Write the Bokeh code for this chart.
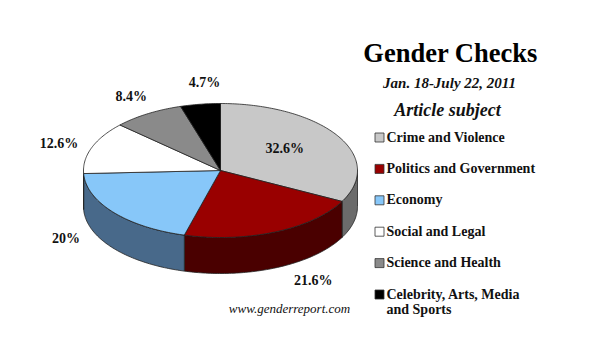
import math
from bokeh.plotting import figure
from bokeh.models import Range1d
from bokeh.core.properties import value
from bokeh.embed import file_html
from bokeh.resources import INLINE

# ---- data ----
categories = ["Crime and Violence", "Politics and Government", "Economy",
              "Social and Legal", "Science and Health", "Celebrity, Arts, Media\nand Sports"]
shares = [32.6, 21.6, 20.0, 12.6, 8.4, 4.7]
pct_labels = ["32.6%", "21.6%", "20%", "12.6%", "8.4%", "4.7%"]
title_text = "Gender Checks"
subtitle_text = "Jan. 18-July 22, 2011"
legend_title = "Article subject"
source_text = "www.genderreport.com"

# ---- styles ----
top_colors = ["#c8c8c8", "#990000", "#87c7f9", "#ffffff", "#8a8a8a", "#000000"]
side_colors = ["#6b6b6b", "#4a0000", "#48698a", "#bdbdbd", "#4a4a4a", "#000000"]
label_nudge = [(-6, 1), (30, 6), (-32, 22), (-14, -3), (-6, 0), (7, 2)]
FONT = "Liberation Serif"

W, H = 590, 344
p = figure(width=W, height=H, output_backend="svg", toolbar_location=None,
           x_range=Range1d(0, W), y_range=Range1d(360 - H, 360),
           x_axis_location=None, y_axis_location=None, min_border=0)
p.grid.visible = False
p.outline_line_color = None
p.background_fill_color = "white"

# image y -> data y
def Y(img_y):
    return 360 - img_y

cx, cy = 220, Y(170)
rx, ry, depth = 137, 67, 36
total = sum(shares)

def pt(t, drop=0.0):
    r = math.radians(t)
    return cx + rx * math.cos(r), cy + ry * math.sin(r) - drop

# angular ranges (clockwise from 12 o'clock)
starts, ends = [], []
a = 90.0
for s in shares:
    b = a - s / total * 360.0
    starts.append(a)
    ends.append(b)
    a = b

def arc(lo, hi, drop=0.0, step=1.0):
    n = max(2, int(math.ceil((hi - lo) / step)) + 1)
    return [pt(lo + (hi - lo) * i / (n - 1), drop) for i in range(n)]

# side walls (visible lower half)
sx, sy, sc = [], [], []
for i in range(len(shares)):
    hi, lo = starts[i], ends[i]
    for (wlo, whi) in [(-180, 0), (-540, -360), (180, 360)]:
        l, h = max(lo, wlo), min(hi, whi)
        if h - l > 0.05:
            top = arc(l, h)
            bot = arc(l, h, depth)[::-1]
            pts = top + bot
            sx.append([q[0] for q in pts])
            sy.append([q[1] for q in pts])
            sc.append(side_colors[i])
p.patches(sx, sy, fill_color=sc, line_color="#222222", line_width=0.8)

# top wedges
tx, ty = [], []
for i in range(len(shares)):
    pts = [(cx, cy)] + arc(ends[i], starts[i])[::-1]
    tx.append([q[0] for q in pts])
    ty.append([q[1] for q in pts])
p.patches(tx, ty, fill_color=top_colors, line_color="#222222", line_width=0.8)

# percentage labels
lx, ly = [], []
for i in range(len(shares)):
    mid = (starts[i] + ends[i]) / 2
    r = math.radians(mid)
    if i == 0:
        x = cx + 0.6 * rx * math.cos(r)
        y = cy + 0.6 * ry * math.sin(r)
    else:
        d = 20
        x = cx + (rx + d) * math.cos(r)
        y = cy + (ry + d) * math.sin(r) - (depth if math.sin(r) < 0 else 0)
    lx.append(x + label_nudge[i][0])
    ly.append(y + label_nudge[i][1])
p.text(lx, ly, text=pct_labels, text_font=value(FONT), text_font_style="bold",
       text_font_size="14px", text_align="center", text_baseline="middle", text_color="#111111")

# titles
p.text([450], [Y(52)], text=[title_text], text_font=value(FONT), text_font_style="bold",
       text_font_size="26.5px", text_align="center", text_baseline="middle", text_color="#000000")
p.text([449], [Y(82)], text=[subtitle_text], text_font=value(FONT), text_font_style="bold italic",
       text_font_size="15px", text_align="center", text_baseline="middle", text_color="#111111")
p.text([447], [Y(109)], text=[legend_title], text_font=value(FONT), text_font_style="bold italic",
       text_font_size="18px", text_align="center", text_baseline="middle", text_color="#111111")

# legend
leg_y = [Y(137 + 31.4 * i) for i in range(len(categories))]
p.rect([379] * len(categories), leg_y, width=9, height=9, fill_color=top_colors,
       line_color="#333333", line_width=0.8)
p.text([386] * len(categories), [y + 8 for y in leg_y], text=categories, text_font=value(FONT),
       text_font_style="bold", text_font_size="14px", text_align="left", text_baseline="top",
       text_color="#111111", text_line_height=1.05)

# source
p.text([289], [Y(308)], text=[source_text], text_font=value(FONT), text_font_style="italic",
       text_font_size="13px", text_align="center", text_baseline="middle", text_color="#111111")

open("out.html", "w").write(file_html(p, INLINE))
